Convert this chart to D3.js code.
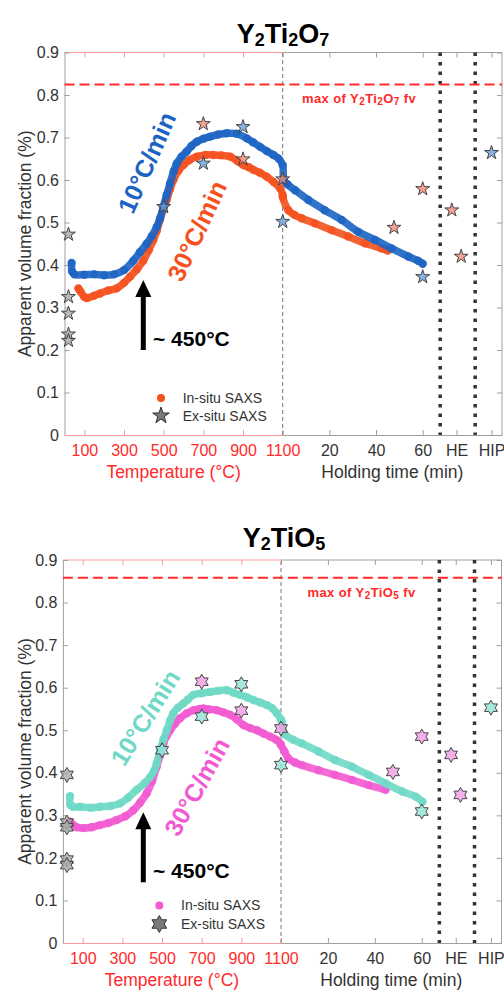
<!DOCTYPE html>
<html><head><meta charset="utf-8">
<script src="https://cdn.jsdelivr.net/npm/d3@7"></script>
<style>
body{margin:0;background:#fff}
svg{display:block;font-family:"Liberation Sans",Arial,Helvetica,sans-serif}
</style></head>
<body><svg id="c" width="504" height="994"></svg>
<script>
// ---------- shared axis data ----------
const yTicks = [0,0.1,0.2,0.3,0.4,0.5,0.6,0.7,0.8,0.9];
const tempTicks = [100,300,500,700,900,1100];
const holdTickPos = [20,40,60,74.5,89.5];
const holdTickLabels = ["20","40","60","HE","HIP"];
const dividers = [67.5,82.5];
const rtTemp = 20;

// ---------- Y2Ti2O7 ----------
const o7MaxFv = 0.825;
const o7Rate10Temp = [[36,0.405],[38,0.385],[50,0.378],[100,0.377],[150,0.378],[200,0.376],[250,0.378],[300,0.388],[347,0.41],[380,0.43],[414,0.45],[440,0.468],[465,0.49],[482,0.51],[498,0.537],[515,0.565],[532,0.592],[550,0.62],[566,0.639],[590,0.655],[616,0.667],[640,0.68],[667,0.69],[700,0.697],[734,0.702],[775,0.707],[818,0.71],[868,0.709],[919,0.698],[950,0.689],[986,0.678],[1020,0.668],[1053,0.659],[1080,0.65],[1100,0.635]];
const o7Rate10Hold = [[0.5,0.6],[2,0.59],[5.3,0.576],[11,0.553],[18,0.529],[25.3,0.506],[32.4,0.478],[39.6,0.459],[46.7,0.439],[53.8,0.42],[58,0.41],[60,0.403]];
const o7Rate30Temp = [[70,0.345],[80,0.338],[100,0.325],[112,0.322],[150,0.328],[179,0.333],[220,0.34],[263,0.345],[300,0.358],[330,0.372],[365,0.39],[397,0.41],[425,0.435],[448,0.459],[465,0.48],[481,0.506],[498,0.53],[515,0.553],[532,0.578],[549,0.6],[575,0.622],[599,0.635],[630,0.647],[667,0.655],[710,0.659],[750,0.659],[790,0.658],[835,0.655],[870,0.645],[902,0.635],[930,0.63],[952,0.624],[985,0.617],[1019,0.608],[1055,0.595],[1087,0.58],[1100,0.565]];
const o7Rate30Hold = [[0,0.56],[2.4,0.529],[5,0.518],[8.1,0.51],[13.8,0.498],[21,0.482],[28.1,0.467],[35.3,0.451],[42.4,0.439],[45,0.434]];
const o7ExRT = [0.472,0.325,0.286,0.237,0.222];
const o7Ex10Temp = [[500,0.537],[700,0.639],[900,0.725],[1100,0.502]];
const o7Ex10Hold = [[60,0.372],[89.5,0.664]];
const o7Ex30Temp = [[700,0.732],[900,0.649],[1100,0.602]];
const o7Ex30Hold = [[47.7,0.488],[60,0.579],[72.5,0.529],[76.5,0.42]];

// ---------- Y2TiO5 ----------
const o5MaxFv = 0.858;
const o5Rate10Temp = [[36,0.345],[37,0.325],[50,0.32],[86,0.32],[140,0.318],[187,0.32],[240,0.322],[288,0.328],[330,0.342],[372,0.36],[410,0.375],[440,0.39],[460,0.405],[473,0.422],[490,0.453],[507,0.478],[524,0.5],[540,0.522],[557,0.54],[580,0.553],[608,0.563],[630,0.572],[658,0.583],[700,0.587],[742,0.59],[785,0.593],[827,0.594],[860,0.588],[894,0.583],[930,0.577],[961,0.571],[995,0.565],[1029,0.559],[1055,0.552],[1079,0.54],[1100,0.525]];
const o5Rate10Hold = [[0.3,0.52],[1.7,0.49],[5,0.478],[8.9,0.469],[16,0.45],[23,0.43],[30.3,0.414],[37.4,0.395],[44.6,0.375],[51.7,0.356],[57.4,0.344],[60.3,0.332]];
const o5Rate30Temp = [[36,0.285],[50,0.278],[70,0.272],[103,0.27],[145,0.272],[187,0.277],[230,0.282],[271,0.289],[315,0.298],[355,0.312],[390,0.33],[423,0.352],[450,0.38],[473,0.414],[490,0.44],[507,0.469],[524,0.487],[541,0.5],[565,0.515],[591,0.528],[625,0.54],[658,0.547],[690,0.55],[709,0.551],[740,0.549],[776,0.547],[810,0.542],[844,0.536],[878,0.525],[911,0.512],[945,0.505],[978,0.5],[1012,0.492],[1046,0.485],[1075,0.478],[1096,0.469]];
const o5Rate30Hold = [[0,0.465],[1.5,0.45],[3.1,0.434],[6,0.424],[8.9,0.418],[16,0.406],[23,0.395],[30.3,0.383],[37.4,0.371],[44.6,0.36]];
const o5ExRT = [0.395,0.283,0.272,0.196,0.183];
const o5Ex10Temp = [[500,0.453],[700,0.532],[900,0.608],[1100,0.418]];
const o5Ex10Hold = [[60,0.309],[89.5,0.553]];
const o5Ex30Temp = [[700,0.614],[900,0.546],[1100,0.504]];
const o5Ex30Hold = [[47.7,0.402],[60,0.485],[72.5,0.442],[76.5,0.348]];

// ---------- styles ----------
const RED = "#ff2a2a", LRED = "#ff9a9a", AXG = "#a0a0a0", TXT = "#333";

const hexagram = {
  draw(ctx, size) {
    const R = Math.sqrt(size), r = R / Math.sqrt(3);
    for (let k = 0; k < 12; k++) {
      const a = -Math.PI / 2 + k * Math.PI / 6;
      const rr = k % 2 === 0 ? R : r;
      const px = rr * Math.cos(a), py = rr * Math.sin(a);
      if (k === 0) ctx.moveTo(px, py); else ctx.lineTo(px, py);
    }
    ctx.closePath();
  }
};

const panels = [
  {
    left: 64.5, mid: 282.7, right: 502, y0: 435, y9: 52.5, titleY: 43.3, titleX: 283,
    title: [["Y",0],["2",1],["Ti",0],["2",1],["O",0],["7",1]],
    maxLabel: [["max of Y",0],["2",1],["Ti",0],["2",1],["O",0],["7",1],[" fv",0]],
    maxLabelPos: [302, 102.7], maxFv: o7MaxFv,
    c10: "#1c64c4", c30: "#f4511e", s10: "#6a9fdb", s30: "#f38b77",
    r10T: o7Rate10Temp, r10H: o7Rate10Hold, r30T: o7Rate30Temp, r30H: o7Rate30Hold,
    exRT: o7ExRT, e10T: o7Ex10Temp, e10H: o7Ex10Hold, e30T: o7Ex30Temp, e30H: o7Ex30Hold,
    sym: d3.symbolStar, symSize: 60, legSym: 85,
    ann10: [146.7, 162.5, -66], ann30: [196.7, 230.8, -65],
    arrowX: 143.3, arrowTop: 280, arrowBot: 350, arrowText: [153, 346],
    legend: [161, 398, 415.7, 182.7]
  },
  {
    left: 62.9, mid: 281, right: 501.5, y0: 943, y9: 560, titleY: 546.7, titleX: 284,
    title: [["Y",0],["2",1],["TiO",0],["5",1]],
    maxLabel: [["max of Y",0],["2",1],["TiO",0],["5",1],[" fv",0]],
    maxLabelPos: [307.5, 596.7], maxFv: o5MaxFv,
    c10: "#6fd9c5", c30: "#f25ad2", s10: "#92e3d6", s30: "#f39ce3",
    r10T: o5Rate10Temp, r10H: o5Rate10Hold, r30T: o5Rate30Temp, r30H: o5Rate30Hold,
    exRT: o5ExRT, e10T: o5Ex10Temp, e10H: o5Ex10Hold, e30T: o5Ex30Temp, e30H: o5Ex30Hold,
    sym: hexagram, symSize: 56, legSym: 72,
    ann10: [145, 717.5, -58], ann30: [196.7, 786.7, -61],
    arrowX: 143.3, arrowTop: 812.3, arrowBot: 882.3, arrowText: [153, 877.5],
    legend: [159.3, 905.5, 924, 181]
  }
];

const svg = d3.select("#c");

function richText(g, parts, mainSize, subSize, subDy) {
  let shifted = false;
  parts.forEach(([t, sub]) => {
    const ts = g.append("tspan").text(t).attr("font-size", sub ? subSize : mainSize);
    if (sub && !shifted) { ts.attr("dy", subDy); shifted = true; }
    else if (!sub && shifted) { ts.attr("dy", -subDy); shifted = false; }
  });
}

panels.forEach(P => {
  const g = svg.append("g");
  const xT = d3.scaleLinear().domain([0, 1100]).range([P.left, P.mid]);
  const xH = d3.scaleLinear().domain([0, 94]).range([P.mid, P.right]);
  const y = d3.scaleLinear().domain([0, 0.9]).range([P.y0, P.y9]);
  const X = (p, v) => p === "T" ? xT(v) : xH(v);

  // title
  const tt = g.append("text").attr("x", P.titleX).attr("y", P.titleY)
    .attr("text-anchor", "middle").attr("font-weight", "bold").attr("fill", "#000");
  richText(tt, P.title, 27, 18, 3);

  // frame: top & right
  g.append("line").attr("x1", xT(0)).attr("x2", xT(1100)).attr("y1", y(0.9)).attr("y2", y(0.9)).attr("stroke", LRED);
  g.append("line").attr("x1", xH(0)).attr("x2", xH(94)).attr("y1", y(0.9)).attr("y2", y(0.9)).attr("stroke", AXG);
  g.append("line").attr("x1", xH(94)).attr("x2", xH(94)).attr("y1", y(0)).attr("y2", y(0.9)).attr("stroke", AXG);

  // y axis left
  const ya = g.append("g").attr("transform", `translate(${P.left},0)`)
    .call(d3.axisLeft(y).tickValues(yTicks).tickSize(-5).tickSizeOuter(0).tickPadding(5.5)
      .tickFormat(d => d === 0 ? "0" : d3.format(".1f")(d)));
  ya.select(".domain").attr("stroke", AXG);
  ya.selectAll(".tick line").attr("stroke", AXG);
  ya.selectAll("text").attr("font-size", 16).attr("fill", TXT).attr("font-family", null);
  // y axis right (ticks only)
  const yr = g.append("g").attr("transform", `translate(${P.right},0)`)
    .call(d3.axisRight(y).tickValues(yTicks).tickSize(-5).tickSizeOuter(0).tickFormat(""));
  yr.select(".domain").remove();
  yr.selectAll(".tick line").attr("stroke", AXG);

  // bottom temperature axis
  const xb = g.append("g").attr("transform", `translate(0,${P.y0})`)
    .call(d3.axisBottom(xT).tickValues(tempTicks).tickSize(-5).tickSizeOuter(0).tickPadding(10)
      .tickFormat(d3.format("d")));
  xb.select(".domain").attr("stroke", LRED);
  xb.selectAll(".tick line").attr("stroke", LRED);
  xb.selectAll("text").attr("font-size", 16).attr("fill", RED).attr("font-family", null);
  // bottom holding axis
  const xhb = g.append("g").attr("transform", `translate(0,${P.y0})`)
    .call(d3.axisBottom(xH).tickValues(holdTickPos).tickSize(-5).tickSizeOuter(0).tickPadding(10)
      .tickFormat((d, i) => holdTickLabels[i]));
  xhb.select(".domain").attr("stroke", AXG);
  xhb.selectAll(".tick line").attr("stroke", AXG);
  xhb.selectAll("text").attr("font-size", 16).attr("fill", TXT).attr("font-family", null);
  // top ticks
  const xt = g.append("g").attr("transform", `translate(0,${P.y9})`)
    .call(d3.axisTop(xT).tickValues(tempTicks).tickSize(-5).tickSizeOuter(0).tickFormat(""));
  xt.select(".domain").remove();
  xt.selectAll(".tick line").attr("stroke", LRED);
  const xht = g.append("g").attr("transform", `translate(0,${P.y9})`)
    .call(d3.axisTop(xH).tickValues(holdTickPos).tickSize(-5).tickSizeOuter(0).tickFormat(""));
  xht.select(".domain").remove();
  xht.selectAll(".tick line").attr("stroke", AXG);

  // axis titles
  g.append("text").attr("x", (xT(0) + xT(1100)) / 2).attr("y", P.y0 + 43)
    .attr("text-anchor", "middle").attr("font-size", 17.5).attr("fill", RED).text("Temperature (°C)");
  g.append("text").attr("x", (xH(0) + xH(94)) / 2).attr("y", P.y0 + 43)
    .attr("text-anchor", "middle").attr("font-size", 17.5).attr("fill", TXT).text("Holding time (min)");
  g.append("text").attr("transform", `translate(25,${(y(0) + y(0.9)) / 2}) rotate(-90)`)
    .attr("text-anchor", "middle").attr("dy", "0.35em").attr("font-size", 17.5).attr("fill", TXT)
    .text("Apparent volume fraction (%)");

  // reference lines
  g.append("line").attr("x1", xT(1100)).attr("x2", xT(1100)).attr("y1", y(0)).attr("y2", y(0.9))
    .attr("stroke", "#777").attr("stroke-width", 1).attr("stroke-dasharray", "4,3");
  dividers.forEach(d => g.append("line").attr("x1", xH(d)).attr("x2", xH(d)).attr("y1", y(0.9)).attr("y2", y(0))
    .attr("stroke", "#333").attr("stroke-width", 3.5).attr("stroke-dasharray", "3.5,6"));
  g.append("line").attr("x1", P.left).attr("x2", P.right).attr("y1", y(P.maxFv)).attr("y2", y(P.maxFv))
    .attr("stroke", RED).attr("stroke-width", 2).attr("stroke-dasharray", "10,5");
  const ml = g.append("text").attr("x", P.maxLabelPos[0]).attr("y", P.maxLabelPos[1])
    .attr("font-weight", "bold").attr("fill", RED).attr("letter-spacing", 0.4);
  richText(ml, P.maxLabel, 13, 10, 2);

  // curves
  const line = d3.line().x(d => X(d.p, d.x)).y(d => y(d.v)).curve(d3.curveCatmullRom.alpha(0.5));
  const toPts = (tArr, hArr) => tArr.map(d => ({p: "T", x: d[0], v: d[1]}))
    .concat(hArr.map(d => ({p: "H", x: d[0], v: d[1]})));
  [[P.r30T, P.r30H, P.c30], [P.r10T, P.r10H, P.c10]].forEach(([tA, hA, col]) => {
    const pts = toPts(tA, hA);
    g.append("path").datum(pts).attr("d", line).attr("fill", "none").attr("stroke", col)
      .attr("stroke-width", 7.5).attr("stroke-linecap", "round").attr("stroke-linejoin", "round")
      .attr("stroke-opacity", 0.9);
    g.append("g").selectAll("circle").data(pts).join("circle")
      .attr("cx", d => X(d.p, d.x)).attr("cy", d => y(d.v)).attr("r", 4.2)
      .attr("fill", col).attr("fill-opacity", 0.85);
  });

  // ex-situ markers
  const sym = d3.symbol().type(P.sym).size(P.symSize);
  const exPts = P.exRT.map(v => ({p: "T", x: rtTemp, v, c: "#a8a8a8"}))
    .concat(toPts(P.e10T, P.e10H).map(d => ({...d, c: P.s10})))
    .concat(toPts(P.e30T, P.e30H).map(d => ({...d, c: P.s30})));
  g.append("g").selectAll("path").data(exPts).join("path")
    .attr("d", sym).attr("transform", d => `translate(${X(d.p, d.x)},${y(d.v)})`)
    .attr("fill", d => d.c).attr("fill-opacity", 0.8).attr("stroke", "#444").attr("stroke-width", 1);

  // rate annotations
  g.append("text").attr("transform", `translate(${P.ann10[0]},${P.ann10[1]}) rotate(${P.ann10[2]})`)
    .attr("text-anchor", "middle").attr("dy", "0.36em").attr("font-size", 25).attr("font-weight", "bold")
    .attr("fill", P.c10).text("10°C/min");
  g.append("text").attr("transform", `translate(${P.ann30[0]},${P.ann30[1]}) rotate(${P.ann30[2]})`)
    .attr("text-anchor", "middle").attr("dy", "0.36em").attr("font-size", 25).attr("font-weight", "bold")
    .attr("fill", P.c30).text("30°C/min");

  // arrow ~450°C
  const ax = P.arrowX;
  g.append("line").attr("x1", ax).attr("x2", ax).attr("y1", P.arrowBot).attr("y2", P.arrowTop + 14)
    .attr("stroke", "#000").attr("stroke-width", 5);
  g.append("path").attr("d", `M${ax - 8},${P.arrowTop + 17}L${ax},${P.arrowTop}L${ax + 8},${P.arrowTop + 17}Z`)
    .attr("fill", "#000");
  g.append("text").attr("x", P.arrowText[0]).attr("y", P.arrowText[1]).attr("font-size", 21)
    .attr("font-weight", "bold").attr("fill", "#000").text("~ 450°C");

  // legend
  const [lx, ly1, ly2, ltx] = P.legend;
  g.append("circle").attr("cx", lx).attr("cy", ly1).attr("r", 4).attr("fill", P.c30);
  g.append("path").attr("d", d3.symbol().type(P.sym).size(P.legSym)())
    .attr("transform", `translate(${lx},${ly2})`).attr("fill", "#7a7a7a").attr("stroke", "#333");
  g.append("text").attr("x", ltx).attr("y", ly1).attr("dy", "0.35em").attr("font-size", 14)
    .attr("fill", TXT).text("In-situ SAXS");
  g.append("text").attr("x", ltx).attr("y", ly2).attr("dy", "0.35em").attr("font-size", 14)
    .attr("fill", TXT).text("Ex-situ SAXS");
});
</script></body></html>
